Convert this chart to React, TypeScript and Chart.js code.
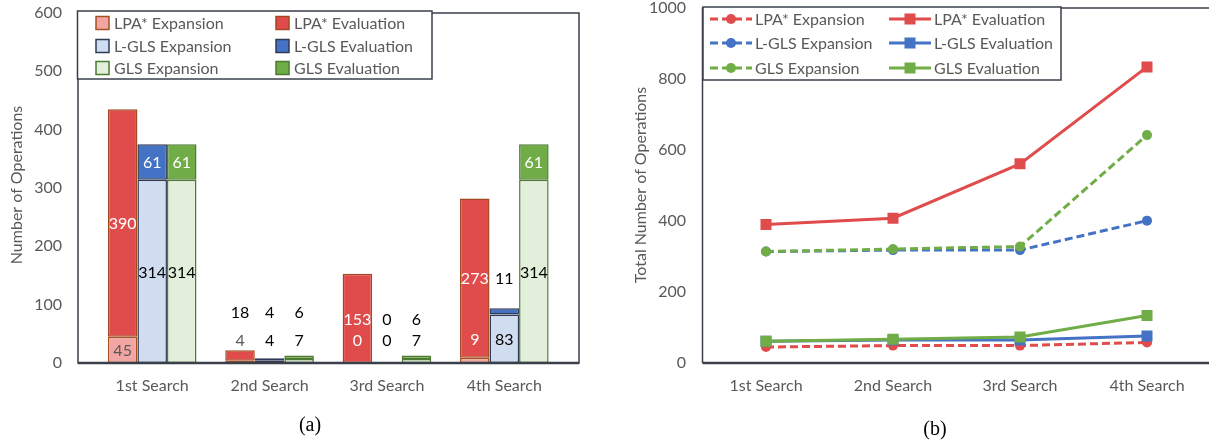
import React, { useEffect, useRef } from "react";
import { Chart, registerables } from "chart.js";

Chart.register(...registerables);

// ---------- data ----------
const categories = ["1st Search", "2nd Search", "3rd Search", "4th Search"];

// (a) per-search operations
const lpaExpansion = [45, 4, 0, 9];
const lpaEvaluation = [390, 18, 153, 273];
const lglsExpansion = [314, 4, 0, 83];
const lglsEvaluation = [61, 4, 0, 11];
const glsExpansion = [314, 7, 7, 314];
const glsEvaluation = [61, 6, 6, 61];

// (b) total operations
const lpaExpansionTotal = [45, 49, 49, 58];
const lpaEvaluationTotal = [390, 408, 561, 834];
const lglsExpansionTotal = [314, 318, 318, 401];
const lglsEvaluationTotal = [61, 65, 65, 76];
const glsExpansionTotal = [314, 321, 328, 642];
const glsEvaluationTotal = [61, 67, 73, 134];

const barAxisMax = 600;
const barAxisStep = 100;
const lineAxisMax = 1000;
const lineAxisStep = 200;

// ---------- styles ----------
const FONT_FAMILY = "Lato, 'Open Sans', sans-serif";
const TEXT_GRAY = "#595959";
const FRAME = "#3a3f4a";
const RED = "#E04B4B";
const BLUE = "#4472C4";
const GREEN = "#70AD47";

const fontStr = (size: number) => `${size}px ${FONT_FAMILY}`;

// ---------- plugin for (a) ----------
const decorA = {
  id: "decorA",
  afterDatasetsDraw(chart: any) {
    const ctx = chart.ctx as CanvasRenderingContext2D;
    const ca = chart.chartArea;
    const y = chart.scales.y;
    const ds = chart.data.datasets as any[];
    ctx.save();

    // frame
    const fl = ca.left - 15.5;
    const fr = ca.right + 16;
    ctx.strokeStyle = FRAME;
    ctx.lineWidth = 1.5;
    ctx.strokeRect(fl, ca.top, fr - fl, ca.bottom - ca.top);
    ctx.lineWidth = 2.5;
    ctx.beginPath();
    ctx.moveTo(fl, ca.bottom);
    ctx.lineTo(fr, ca.bottom);
    ctx.stroke();

    // data labels
    ctx.font = fontStr(16);
    ctx.textAlign = "center";
    ctx.textBaseline = "middle";
    const defaultRow: Record<string, number> = { exp: 40, eval: 87 };
    const minFit = 30;
    for (let i = 0; i < categories.length; i++) {
      const segs = ds.map((d, di) => {
        let start = 0;
        for (const o of ds) {
          if (o === d) break;
          if (o.stack === d.stack) start += o.data[i];
        }
        return { di, d, start, end: start + d.data[i], kind: d.kind, stack: d.stack };
      });
      for (const kind of ["exp", "eval"]) {
        const big = segs.filter((s) => s.kind === kind && s.end - s.start >= minFit);
        let row = defaultRow[kind];
        if (big.length) {
          let best = big[0];
          for (const b of big) {
            const c = (b.start + b.end) / 2;
            const cb = (best.start + best.end) / 2;
            if (Math.abs(c - defaultRow[kind]) < Math.abs(cb - defaultRow[kind])) best = b;
          }
          row = (best.start + best.end) / 2;
        }
        for (const s of segs.filter((q) => q.kind === kind)) {
          const size = s.end - s.start;
          const v = size >= minFit ? (s.start + s.end) / 2 : row;
          const cover = segs.find((q) => q.stack === s.stack && q.end > q.start && v >= q.start && v <= q.end);
          const color = cover && cover.kind === "eval" ? "#ffffff" : s.d.labelColor;
          const el = chart.getDatasetMeta(s.di).data[i];
          ctx.fillStyle = color;
          ctx.fillText(String(s.d.data[i]), el.x, y.getPixelForValue(v) + 1);
        }
      }
    }

    // legend
    const lx = 77.5, ly = 11, lw = 354.5, lh = 68;
    ctx.fillStyle = "#ffffff";
    ctx.fillRect(lx, ly, lw, lh);
    ctx.strokeStyle = FRAME;
    ctx.lineWidth = 1.5;
    ctx.strokeRect(lx, ly, lw, lh);
    const colX = [96, 276];
    const rowY = [23, 46, 68];
    ctx.textAlign = "left";
    ctx.font = fontStr(16);
    ds.forEach((d, k) => {
      const cx = colX[k % 2];
      const cy = rowY[Math.floor(k / 2)];
      ctx.fillStyle = d.backgroundColor;
      ctx.fillRect(cx, cy - 6.5, 13, 13);
      ctx.strokeStyle = d.borderColor;
      ctx.lineWidth = 1.5;
      ctx.strokeRect(cx, cy - 6.5, 13, 13);
      ctx.fillStyle = TEXT_GRAY;
      ctx.fillText(d.label, cx + 18, cy + 1);
    });

    // y title
    ctx.save();
    ctx.translate(17, 185);
    ctx.rotate(-Math.PI / 2);
    ctx.textAlign = "center";
    ctx.fillStyle = TEXT_GRAY;
    ctx.font = fontStr(16);
    ctx.fillText("Number of Operations", 0, 0);
    ctx.restore();

    // caption
    ctx.fillStyle = "#000";
    ctx.font = "20px 'Liberation Serif', serif";
    ctx.textAlign = "center";
    ctx.fillText("(a)", 310, 426);
    ctx.restore();
  },
};

// ---------- plugin for (b) ----------
const decorB = {
  id: "decorB",
  beforeDatasetsDraw(chart: any) {
    const ctx = chart.ctx as CanvasRenderingContext2D;
    const ca = chart.chartArea;
    ctx.save();
    ctx.strokeStyle = FRAME;
    ctx.lineWidth = 1.5;
    ctx.beginPath();
    ctx.moveTo(ca.left, ca.bottom);
    ctx.lineTo(ca.left, ca.top);
    ctx.lineTo(ca.right, ca.top);
    ctx.lineTo(ca.right, ca.bottom);
    ctx.stroke();
    ctx.lineWidth = 2.5;
    ctx.beginPath();
    ctx.moveTo(ca.left, ca.bottom);
    ctx.lineTo(ca.right, ca.bottom);
    ctx.stroke();
    ctx.restore();
  },
  afterDatasetsDraw(chart: any) {
    const ctx = chart.ctx as CanvasRenderingContext2D;
    const ds = chart.data.datasets as any[];
    ctx.save();
    const lx = 93, ly = 7, lw = 358, lh = 73;
    ctx.fillStyle = "#ffffff";
    ctx.fillRect(lx, ly, lw, lh);
    ctx.strokeStyle = FRAME;
    ctx.lineWidth = 1.5;
    ctx.strokeRect(lx, ly, lw, lh);
    const colX = [100, 279];
    const rowY = [19, 43, 68];
    ctx.font = fontStr(16);
    ctx.textAlign = "left";
    ctx.textBaseline = "middle";
    ds.forEach((d, k) => {
      const x0 = colX[k % 2];
      const cy = rowY[Math.floor(k / 2)];
      ctx.strokeStyle = d.borderColor;
      ctx.lineWidth = 3;
      ctx.setLineDash(d.borderDash || []);
      ctx.beginPath();
      ctx.moveTo(x0, cy);
      ctx.lineTo(x0 + 42, cy);
      ctx.stroke();
      ctx.setLineDash([]);
      ctx.fillStyle = d.borderColor;
      if (d.pointStyle === "rect") {
        ctx.fillRect(x0 + 21 - 5.5, cy - 5.5, 11, 11);
      } else {
        ctx.beginPath();
        ctx.arc(x0 + 21, cy, 5, 0, Math.PI * 2);
        ctx.fill();
      }
      ctx.fillStyle = TEXT_GRAY;
      ctx.fillText(d.label, x0 + 45, cy + 1);
    });

    ctx.save();
    ctx.translate(31, 185);
    ctx.rotate(-Math.PI / 2);
    ctx.textAlign = "center";
    ctx.fillStyle = TEXT_GRAY;
    ctx.font = fontStr(16);
    ctx.fillText("Total Number of Operations", 0, 0);
    ctx.restore();

    ctx.fillStyle = "#000";
    ctx.font = "20px 'Liberation Serif', serif";
    ctx.textAlign = "center";
    ctx.fillText("(b)", 325, 430);
    ctx.restore();
  },
};

function barDataset(label: string, data: number[], stack: string, kind: string, fill: string, border: string, labelColor: string) {
  return {
    label,
    data,
    stack,
    kind,
    labelColor,
    backgroundColor: fill,
    borderColor: border,
    borderWidth: 1.5,
    borderSkipped: false,
    barPercentage: 1,
    categoryPercentage: 0.755,
  } as any;
}

function lineDataset(label: string, data: number[], color: string, dashed: boolean, order: number) {
  return {
    label,
    data,
    borderColor: color,
    backgroundColor: color,
    borderWidth: 3,
    borderDash: dashed ? [8, 4] : [],
    pointStyle: dashed ? "circle" : "rect",
    pointRadius: dashed ? 5 : 7.8,
    pointBackgroundColor: color,
    pointBorderColor: color,
    pointBorderWidth: 0,
    tension: 0,
    fill: false,
    order,
  } as any;
}

function axisTicks(extra: any) {
  return {
    font: { family: FONT_FAMILY, size: 16 },
    color: TEXT_GRAY,
    ...extra,
  };
}

const fixX = (s: any) => {
  s.height = 40;
  s.paddingLeft = 0;
  s.paddingRight = 0;
};
const fixY = (w: number) => (s: any) => {
  s.width = w;
  s.paddingTop = 0;
  s.paddingBottom = 0;
};

export default function App() {
  const aRef = useRef<HTMLCanvasElement>(null);
  const bRef = useRef<HTMLCanvasElement>(null);

  useEffect(() => {
    const chartA = new Chart(aRef.current as HTMLCanvasElement, {
      type: "bar",
      data: {
        labels: categories,
        datasets: [
          barDataset("LPA* Expansion", lpaExpansion, "lpa", "exp", "#F2A6A4", "#A4501F", TEXT_GRAY),
          barDataset("LPA* Evaluation", lpaEvaluation, "lpa", "eval", RED, "#A4481F", "#000000"),
          barDataset("L-GLS Expansion", lglsExpansion, "lgls", "exp", "#D0DCF0", "#2F3A56", "#000000"),
          barDataset("L-GLS Evaluation", lglsEvaluation, "lgls", "eval", BLUE, "#2F3A56", "#000000"),
          barDataset("GLS Expansion", glsExpansion, "gls", "exp", "#E2EFDA", "#4E7A32", "#000000"),
          barDataset("GLS Evaluation", glsEvaluation, "gls", "eval", GREEN, "#4E7A32", "#000000"),
        ],
      },
      options: {
        responsive: false,
        animation: false,
        devicePixelRatio: 1,
        layout: { padding: { left: 0, right: 47, top: 13, bottom: 42 } },
        plugins: { legend: { display: false }, tooltip: { enabled: false } },
        scales: {
          x: {
            stacked: true,
            grid: { display: false, drawTicks: false },
            border: { display: false },
            ticks: axisTicks({ padding: 13, maxRotation: 0, autoSkip: false }),
            afterFit: fixX,
          },
          y: {
            stacked: true,
            min: 0,
            max: barAxisMax,
            grid: { display: false, drawTicks: false },
            border: { display: false },
            ticks: axisTicks({ stepSize: barAxisStep, padding: 31.5, callback: (v: any) => String(v) }),
            afterFit: fixY(93.5),
          },
        },
      } as any,
      plugins: [decorA],
    });

    const chartB = new Chart(bRef.current as HTMLCanvasElement, {
      type: "line",
      data: {
        labels: categories,
        datasets: [
          lineDataset("LPA* Expansion", lpaExpansionTotal, RED, true, 6),
          lineDataset("LPA* Evaluation", lpaEvaluationTotal, RED, false, 5),
          lineDataset("L-GLS Expansion", lglsExpansionTotal, BLUE, true, 4),
          lineDataset("L-GLS Evaluation", lglsEvaluationTotal, BLUE, false, 3),
          lineDataset("GLS Expansion", glsExpansionTotal, GREEN, true, 2),
          lineDataset("GLS Evaluation", glsEvaluationTotal, GREEN, false, 1),
        ],
      },
      options: {
        responsive: false,
        animation: false,
        devicePixelRatio: 1,
        layout: { padding: { left: 0, right: 9.5, top: 8, bottom: 42 } },
        plugins: { legend: { display: false }, tooltip: { enabled: false } },
        scales: {
          x: {
            offset: true,
            grid: { display: false, drawTicks: false, offset: true },
            border: { display: false },
            ticks: axisTicks({ padding: 13, maxRotation: 0, autoSkip: false }),
            afterFit: fixX,
          },
          y: {
            min: 0,
            max: lineAxisMax,
            grid: { display: false, drawTicks: false },
            border: { display: false },
            ticks: axisTicks({ stepSize: lineAxisStep, padding: 16.5, callback: (v: any) => String(v) }),
            afterFit: fixY(92.5),
          },
        },
      } as any,
      plugins: [decorB],
    });

    return () => {
      chartA.destroy();
      chartB.destroy();
    };
  }, []);

  return (
    <div
      style={{
        position: "fixed",
        left: 0,
        top: 0,
        width: 1209,
        height: 445,
        overflow: "hidden",
        background: "#ffffff",
      }}
    >
      <canvas
        ref={aRef}
        width={610}
        height={445}
        style={{ position: "absolute", left: 0, top: 0, width: 610, height: 445 }}
      />
      <canvas
        ref={bRef}
        width={610}
        height={445}
        style={{ position: "absolute", left: 610, top: 0, width: 610, height: 445 }}
      />
    </div>
  );
}
